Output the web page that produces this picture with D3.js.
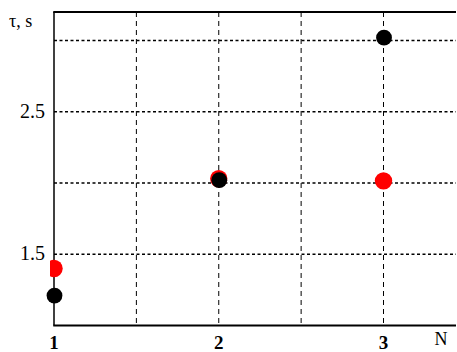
<!DOCTYPE html>
<html>
<head>
<meta charset="utf-8">
<script src="https://cdn.jsdelivr.net/npm/d3@7"></script>
<style>
  body { margin: 0; background: #fff; }
</style>
</head>
<body>
<div id="chart"></div>
<script>
// data
const nValues = [1, 2, 3];
const blackTau = [1.21, 2.02, 3.02];
const redTau = [1.40, 2.03, 2.015];
const xTickLabels = ["1", "2", "3"];
const yTickLabels = [1.5, 2.5];
const xGrid = [1.5, 2, 2.5, 3];
const yGrid = [1.5, 2, 2.5, 3];

const width = 457, height = 352;
const margin = { top: 12, right: 1, bottom: 26.5, left: 54 };
const serif = "'Liberation Serif', 'DejaVu Serif', 'Times New Roman', serif";

const svg = d3.select("#chart").append("svg")
  .attr("width", width)
  .attr("height", height)
  .attr("font-family", serif);

const x = d3.scaleLinear()
  .domain([1, 3.44])
  .range([margin.left, width - margin.right]);

const y = d3.scaleLinear()
  .domain([1, 3.2])
  .range([height - margin.bottom, margin.top]);

// vertical dashed grid
svg.append("g").selectAll("line")
  .data(xGrid)
  .join("line")
  .attr("x1", d => x(d)).attr("x2", d => x(d))
  .attr("y1", y(3.2)).attr("y2", y(1))
  .attr("stroke", "#000")
  .attr("stroke-width", 1)
  .attr("stroke-dasharray", "5,4");

// horizontal dotted grid
svg.append("g").selectAll("line")
  .data(yGrid)
  .join("line")
  .attr("x1", x(1)).attr("x2", x(3.44))
  .attr("y1", d => y(d)).attr("y2", d => y(d))
  .attr("stroke", "#000")
  .attr("stroke-width", 1.6)
  .attr("stroke-dasharray", "3,2.5");

// frame: left, top, bottom
svg.append("line")
  .attr("x1", x(1)).attr("x2", x(1))
  .attr("y1", y(3.2)).attr("y2", y(1))
  .attr("stroke", "#000").attr("stroke-width", 1.5);
svg.append("line")
  .attr("x1", x(1) - 0.75).attr("x2", x(3.44))
  .attr("y1", y(3.2)).attr("y2", y(3.2))
  .attr("stroke", "#000").attr("stroke-width", 2);
svg.append("line")
  .attr("x1", x(1) - 0.75).attr("x2", x(3.44))
  .attr("y1", y(1)).attr("y2", y(1))
  .attr("stroke", "#000").attr("stroke-width", 2);

// red series is cut at the left edge in the original
svg.append("clipPath").attr("id", "redclip")
  .append("rect")
  .attr("x", x(1) - 4).attr("y", 0)
  .attr("width", width).attr("height", height);

svg.append("g")
  .attr("clip-path", "url(#redclip)")
  .selectAll("circle")
  .data(nValues.map((n, i) => ({ n, t: redTau[i] })))
  .join("circle")
  .attr("cx", d => x(d.n))
  .attr("cy", d => y(d.t))
  .attr("r", 8.7)
  .attr("fill", "#ff0000");

svg.append("g").selectAll("circle")
  .data(nValues.map((n, i) => ({ n, t: blackTau[i] })))
  .join("circle")
  .attr("cx", d => x(d.n) + 0.5)
  .attr("cy", d => y(d.t))
  .attr("r", 7.9)
  .attr("fill", "#000");

// x tick labels
svg.append("g").selectAll("text")
  .data(nValues)
  .join("text")
  .attr("x", d => x(d))
  .attr("y", 349)
  .attr("text-anchor", "middle")
  .attr("font-size", 19)
  .attr("font-weight", "bold")
  .text((d, i) => xTickLabels[i]);

// y tick labels
svg.append("g").selectAll("text")
  .data(yTickLabels)
  .join("text")
  .attr("x", 45)
  .attr("y", d => y(d) + 6)
  .attr("text-anchor", "end")
  .attr("font-size", 20)
  .text(d => d.toFixed(1));

// axis titles
svg.append("text")
  .attr("x", 9).attr("y", 27)
  .attr("font-size", 18)
  .text("τ, s");

svg.append("text")
  .attr("x", 441).attr("y", 345)
  .attr("text-anchor", "middle")
  .attr("font-size", 18)
  .text("N");
</script>
</body>
</html>
